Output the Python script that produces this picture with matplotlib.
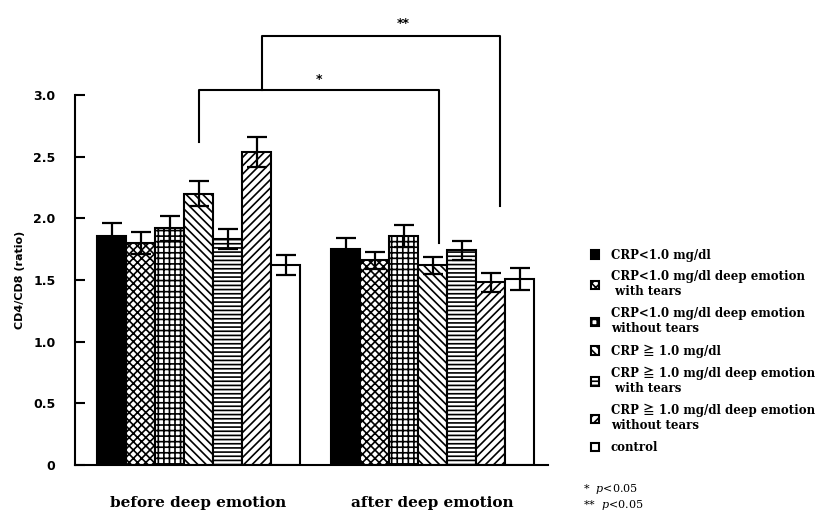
import numpy as np
import matplotlib
matplotlib.use("Agg")
import matplotlib.pyplot as plt

plt.rcParams["hatch.linewidth"] = 1.2
plt.rcParams["mathtext.fontset"] = "dejavuserif"

# ── data ─────────────────────────────────────────────────────────────────────
groups = ["before deep emotion", "after deep emotion"]
series = [
    "CRP<1.0 mg/dl",
    "CRP<1.0 mg/dl deep emotion\n with tears",
    "CRP<1.0 mg/dl deep emotion\nwithout tears",
    "CRP \u2267 1.0 mg/dl",
    "CRP \u2267 1.0 mg/dl deep emotion\n with tears",
    "CRP \u2267 1.0 mg/dl deep emotion\nwithout tears",
    "control",
]
before_vals = [1.86, 1.80, 1.92, 2.20, 1.83, 2.54, 1.62]
before_err  = [0.10, 0.09, 0.10, 0.10, 0.08, 0.12, 0.08]
after_vals  = [1.75, 1.66, 1.86, 1.62, 1.74, 1.48, 1.51]
after_err   = [0.09, 0.07, 0.09, 0.07, 0.08, 0.08, 0.09]
yticks      = [0, 0.5, 1.0, 1.5, 2.0, 2.5, 3.0]
ytick_lbls  = ["0", "0.5", "1.0", "1.5", "2.0", "2.5", "3.0"]
sig_marks   = ["*", "**"]
sig_notes   = ["*  $p$<0.05", "**  $p$<0.05"]

# ── styles ───────────────────────────────────────────────────────────────────
facecolors = ["black", "white", "white", "white", "white", "white", "white"]
hatches    = [None, "xxxx", "+++", "\\\\\\\\", "----", "////", None]
group_start = [0.76, 8.83]
serif = ["DejaVu Serif", "Noto Sans CJK JP"]

fig = plt.figure(figsize=(8.31, 5.20), dpi=100)
ax = fig.add_axes([75 / 831, 55 / 520, 473 / 831, 370 / 520])

vals = [before_vals, after_vals]
errs = [before_err, after_err]
handles = []
for g in range(2):
    xs = group_start[g] + np.arange(len(series)) + 0.5
    for i in range(len(series)):
        b = ax.bar(xs[i], vals[g][i], width=1.0, color=facecolors[i],
                   edgecolor="black", linewidth=1.5, hatch=hatches[i],
                   label=series[i] if g == 0 else None, zorder=2)
        ax.errorbar(xs[i], vals[g][i], yerr=errs[g][i], fmt="none",
                    ecolor="black", elinewidth=1.6, capsize=7, capthick=1.6,
                    zorder=3)
        if g == 0:
            handles.append(b)

# significance brackets
def bar_x(g, i):
    return group_start[g] + i + 0.5

lw = 1.5
# "*": before idx 3 vs after idx 3
x1, x2, top = bar_x(0, 3), bar_x(1, 3) + 0.2, 3.04
ax.plot([x1, x1, x2, x2], [2.62, top, top, 1.80], color="black", lw=lw,
        clip_on=False)
ax.text(8.4, 3.07, sig_marks[0], ha="center", va="bottom", fontsize=9,
        fontweight="bold", clip_on=False)
# "**": before idx 5 vs after idx 5
x1, x2, top2 = bar_x(0, 5) + 0.2, bar_x(1, 5) + 0.3, 3.48
ax.plot([x1, x1, x2, x2], [top, top2, top2, 2.10], color="black", lw=lw,
        clip_on=False)
ax.text(11.3, 3.53, sig_marks[1], ha="center", va="bottom", fontsize=9,
        fontweight="bold", clip_on=False)

ax.set_xlim(0, 16.3)
ax.set_ylim(0, 3.0)
ax.set_yticks(yticks)
ax.set_yticklabels(ytick_lbls, fontsize=9, fontweight="bold")
ax.set_xticks([bar_x(0, 3), bar_x(1, 3)])
ax.set_xticklabels(groups, fontsize=11, fontweight="bold", family="DejaVu Serif")
ax.tick_params(axis="x", length=0, pad=22)
ax.tick_params(axis="y", direction="in", length=7, width=1.5, pad=14)
ax.set_ylabel("CD4/CD8 (ratio)", fontsize=8, fontweight="bold", labelpad=6)
for s in ["top", "right"]:
    ax.spines[s].set_visible(False)
ax.spines["left"].set_linewidth(1.5)
ax.spines["bottom"].set_linewidth(1.5)

fig.legend(handles=handles, loc="upper left",
           bbox_to_anchor=(580 / 831, 1 - 238 / 520), frameon=False,
           prop={"family": serif, "weight": "bold", "size": 8.5},
           handlelength=0.7, handleheight=0.7, handletextpad=1.0,
           labelspacing=0.75)

for k, note in enumerate(sig_notes):
    fig.text(583 / 831, 1 - (489 + 16 * k) / 520, note, fontsize=8,
             family="DejaVu Serif", va="center")

fig.savefig("out.png", dpi=100)
